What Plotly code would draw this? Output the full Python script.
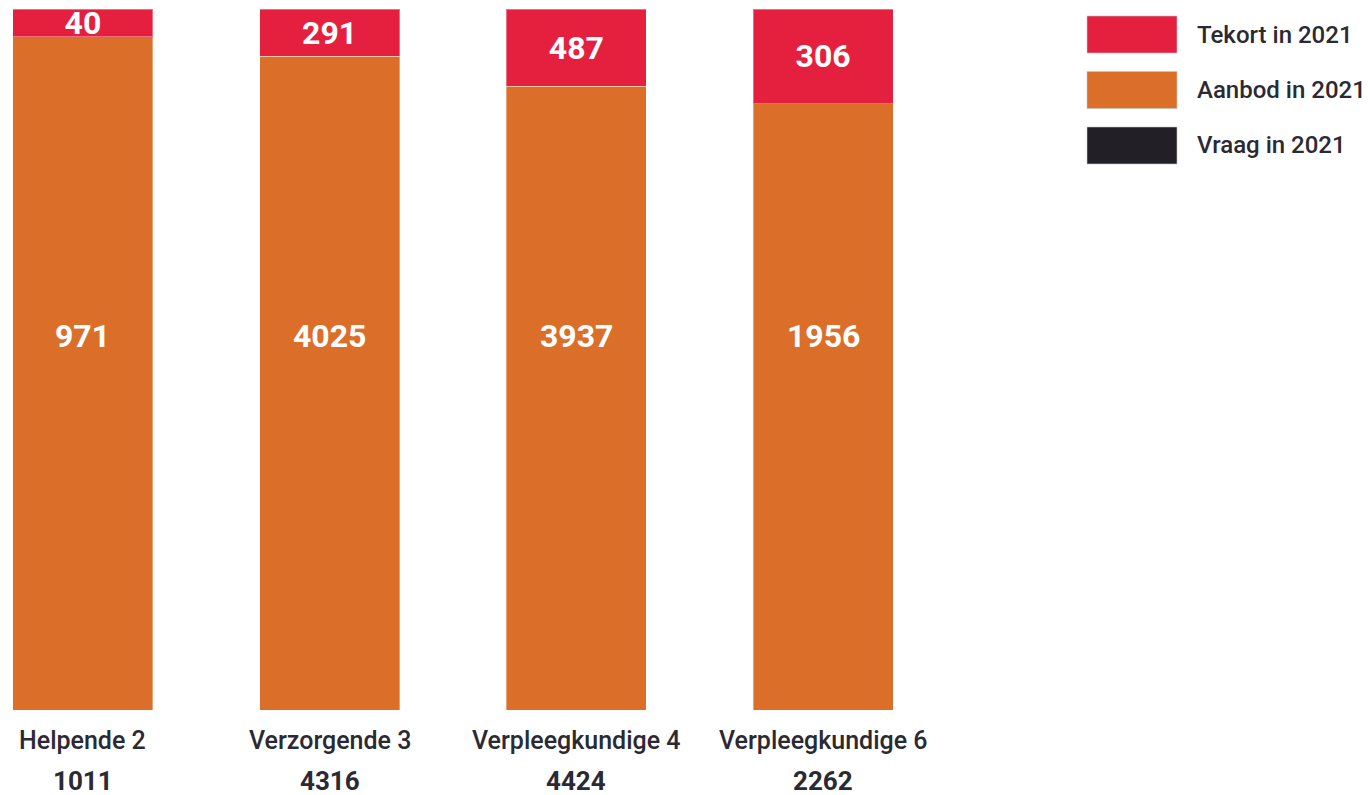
import plotly.graph_objects as go

categories = ["Helpende 2", "Verzorgende 3", "Verpleegkundige 4", "Verpleegkundige 6"]
aanbod = [971, 4025, 3937, 1956]
tekort = [40, 291, 487, 306]
vraag = [1011, 4316, 4424, 2262]
legend_names = ["Tekort in 2021", "Aanbod in 2021", "Vraag in 2021"]

RED = "#E5203F"
ORANGE = "#DB6F2A"
BLACK = "#231F26"
TEXT = "#2B2A33"
FONT = "Roboto"

W, H = 1368, 795
PLOT_L, PLOT_R, PLOT_T, PLOT_B = 13, 893, 9, 710  # page pixels
L, T = PLOT_L, PLOT_T
R = W - PLOT_R
B = H - PLOT_B
PW, PH = W - L - R, H - T - B

xs = list(range(len(categories)))

fig = go.Figure()
fig.add_trace(go.Bar(
    x=xs, y=aanbod, name=legend_names[1],
    marker=dict(color=ORANGE, line=dict(color="rgba(255,255,255,0.35)", width=1)),
    width=0.567, hoverinfo="y",
))
fig.add_trace(go.Bar(
    x=xs, y=tekort, name=legend_names[0],
    marker=dict(color=RED, line=dict(color="rgba(255,255,255,0.35)", width=1)),
    width=0.567, text=tekort, texttemplate="%{text}", textposition="inside", insidetextanchor="middle",
    textangle=0, constraintext="none",
    textfont=dict(color="white", size=32, family=FONT, weight="bold"),
))


def px_x(p):
    return (p - PLOT_L) / PW


def px_y(p):
    return (PLOT_B - p) / PH


annotations = []
for i, (c, v, a) in enumerate(zip(categories, vraag, aanbod)):
    annotations.append(dict(x=i, y=px_y(336), xref="x", yref="paper", text=str(a), showarrow=False,
                            yanchor="middle",
                            font=dict(size=32, color="white", family=FONT, weight="bold")))
    annotations.append(dict(x=i, y=0, xref="x", yref="paper", text=c, showarrow=False,
                            yanchor="middle", yshift=-30,
                            font=dict(size=25, color=TEXT, family=FONT, weight=500)))
    annotations.append(dict(x=i, y=0, xref="x", yref="paper", text=str(v), showarrow=False,
                            yanchor="middle", yshift=-71,
                            font=dict(size=26, color=TEXT, family=FONT, weight="bold")))

shapes = []
legend_colors = [RED, ORANGE, BLACK]
for k, (name, col) in enumerate(zip(legend_names, legend_colors)):
    top = 16 + k * 55.5
    shapes.append(dict(type="rect", xref="paper", yref="paper",
                       x0=px_x(1087), x1=px_x(1177), y0=px_y(top + 37), y1=px_y(top),
                       fillcolor=col, line=dict(color="rgba(200,200,200,0.6)", width=1)))
    annotations.append(dict(x=px_x(1195), y=px_y(top + 18.5), xref="paper", yref="paper",
                            text=name, showarrow=False, xanchor="left", yanchor="middle",
                            font=dict(size=24, color=TEXT, family=FONT, weight=500)))

fig.update_layout(
    width=W, height=H, barmode="stack", barnorm="fraction",
    margin=dict(l=L, r=R, t=T, b=B),
    plot_bgcolor="white", paper_bgcolor="white",
    showlegend=False,
    xaxis=dict(range=[-0.2834, 3.2834], visible=False),
    yaxis=dict(range=[0, 1], visible=False),
    annotations=annotations, shapes=shapes,
)

fig.write_html(
    "out.html",
    config={"displayModeBar": False},
    post_script="document.body.style.margin='0';document.body.style.overflow='hidden';",
)
